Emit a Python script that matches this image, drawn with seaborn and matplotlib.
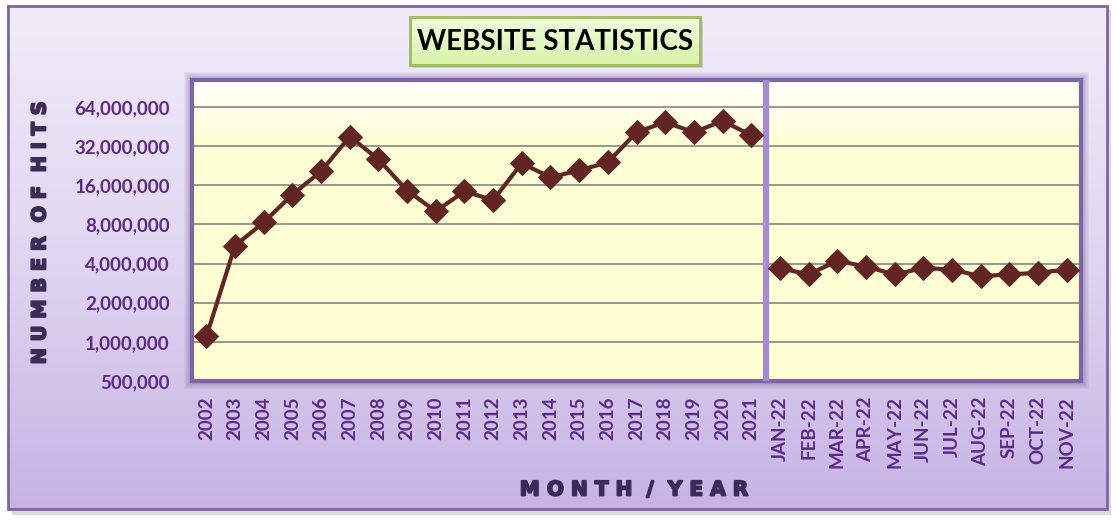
import numpy as np
import pandas as pd
import matplotlib
matplotlib.use("Agg")
import matplotlib.pyplot as plt
import matplotlib.patheffects as pe
import seaborn as sns
from matplotlib.patches import Rectangle
from matplotlib.colors import LinearSegmentedColormap
from matplotlib.ticker import NullLocator

# Dados
years = ["2002", "2003", "2004", "2005", "2006", "2007", "2008", "2009", "2010", "2011",
         "2012", "2013", "2014", "2015", "2016", "2017", "2018", "2019", "2020", "2021"]
year_hits = [1100000, 5500000, 8300000, 13600000, 20500000, 38000000, 25400000,
             14600000, 10100000, 14400000, 12300000, 23700000, 18400000, 20900000,
             24000000, 41000000, 49000000, 41000000, 50000000, 39000000]
months = ["JAN-22", "FEB-22", "MAR-22", "APR-22", "MAY-22", "JUN-22",
          "JUL-22", "AUG-22", "SEP-22", "OCT-22", "NOV-22"]
month_hits = [3700000, 3300000, 4200000, 3800000, 3300000, 3700000,
              3600000, 3200000, 3300000, 3400000, 3600000]
y_ticks = [500000, 1000000, 2000000, 4000000, 8000000, 16000000, 32000000, 64000000]

df = pd.DataFrame({
    "label": years + months,
    "hits": year_hits + month_hits,
    "period": ["year"] * len(years) + ["month"] * len(months),
})

sns.set_style("white")
plt.rcParams['font.family'] = ['Lato', 'DejaVu Sans']

W, H = 1119, 521
fig = plt.figure(figsize=(W / 100, H / 100), dpi=100)
fig.patch.set_facecolor("white")

# camada de fundo em coordenadas de pixel
bg = fig.add_axes([0, 0, 1, 1], zorder=0)
bg.set_xlim(0, W)
bg.set_ylim(H, 0)
bg.axis("off")

grad = np.linspace(0, 1, 256).reshape(-1, 1)

# moldura externa com sombra
bg.add_patch(Rectangle((12, 10), 1099, 505, color="#b8b8b8", alpha=0.5, lw=0))
frame_cmap = LinearSegmentedColormap.from_list("frame", ["#f1ecf9", "#e0d6f1", "#c6b3e4"])
bg.imshow(grad, extent=[8, 1107, 509, 6], cmap=frame_cmap, aspect="auto", zorder=1)
bg.add_patch(Rectangle((8, 6), 1099, 503, fill=False, ec="#8064a2", lw=2, zorder=2))

# título
bg.add_patch(Rectangle((413, 20), 290, 48, color="#9a9a9a", alpha=0.35, lw=0, zorder=2))
title_cmap = LinearSegmentedColormap.from_list("title", ["#f0fbdc", "#d6f4a8"])
bg.imshow(grad, extent=[410, 700, 65, 17], cmap=title_cmap, aspect="auto", zorder=3)
bg.add_patch(Rectangle((410, 17), 290, 48, fill=False, ec="#9bbb59", lw=2, zorder=4))
bg.text(555, 42, "WEBSITE STATISTICS", ha="center", va="center", fontsize=20,
        fontweight="bold", color="black", zorder=5)

# área do gráfico: brilho/sombra e fundo amarelo
x0, x1, y0, y1 = 192, 1081, 80, 381
for k in range(8, 0, -1):
    bg.add_patch(Rectangle((x0 - k, y0 - k), (x1 - x0) + 2 * k, (y1 - y0) + 2 * k,
                           color="#5e4a80", alpha=0.06, lw=0, zorder=3))
plot_cmap = LinearSegmentedColormap.from_list(
    "plot", [(0, "#ffffff"), (0.06, "#fffff0"), (0.2, "#ffffd6"), (1, "#ffffd3")])
bg.imshow(grad, extent=[x0, x1, y1, y0], cmap=plot_cmap, aspect="auto", zorder=4)

# eixo principal
ax = fig.add_axes([x0 / W, 1 - y1 / H, (x1 - x0) / W, (y1 - y0) / H], zorder=2)
ax.set_facecolor("none")

line_color = "#632523"
sns.lineplot(data=df, x="label", y="hits", hue="period", palette=[line_color, line_color],
             marker="D", markersize=12, markeredgecolor=line_color, linewidth=3,
             legend=False, sort=False, ax=ax, zorder=4)

ax.set_yscale("log", base=2)
ax.set_ylim(y_ticks[0], y_ticks[-1] * 2 ** (27 / 39))
ax.set_xlim(-0.5, len(df) - 0.5)
ax.set_yticks(y_ticks)
ax.set_yticklabels([f"{v:,}" for v in y_ticks])
ax.yaxis.set_minor_locator(NullLocator())
ax.yaxis.grid(True, color="#858585", lw=1.2, zorder=1)
ax.xaxis.grid(False)
ax.set_axisbelow(True)

# separador entre anos e meses
ax.axvline(len(years) - 0.5, color="#a68bd1", lw=4.5, zorder=3)

for s in ax.spines.values():
    s.set_color("#7f63a9")
    s.set_linewidth(3)

tick_color = "#5b2a86"
ax.tick_params(axis="y", which="major", length=4, color="#8a8a8a", pad=12,
               labelsize=13.5, labelcolor=tick_color)
ax.tick_params(axis="x", length=0, pad=11, labelsize=13.5, labelcolor=tick_color,
               labelrotation=90)
for t in ax.get_xticklabels() + ax.get_yticklabels():
    t.set_fontweight("bold")

ax.set_xlabel("")
ax.set_ylabel("")

label_color = "#3d2b57"
thick = [pe.withStroke(linewidth=1.3, foreground=label_color)]
fig.text(40 / W, 1 - 233 / H, "N U M B E R  O F  H I T S", rotation=90,
         ha="center", va="center", fontsize=14, fontweight="heavy",
         color=label_color, family=["DejaVu Sans"], path_effects=thick)
fig.text(634 / W, 1 - 490 / H, "M O N T H  /  Y E A R",
         ha="center", va="center", fontsize=14.5, fontweight="heavy",
         color=label_color, family=["DejaVu Sans"], path_effects=thick)

fig.savefig("out.png", dpi=100)
